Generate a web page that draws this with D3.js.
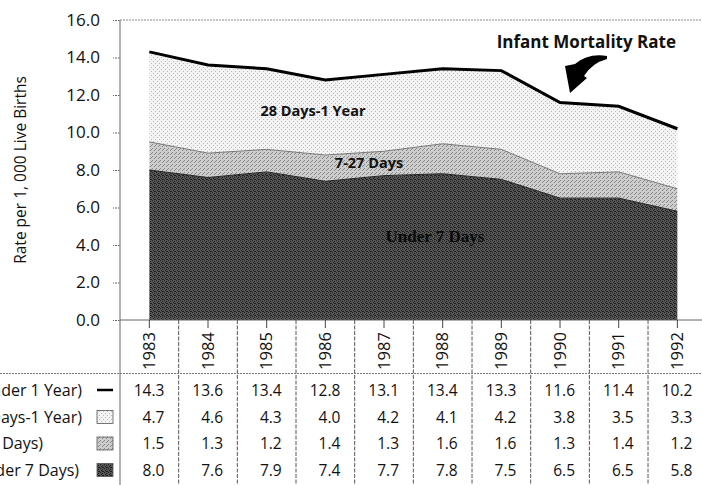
<!DOCTYPE html>
<html><head><meta charset="utf-8">
<script src="https://cdn.jsdelivr.net/npm/d3@7"></script>
<style>
body{margin:0;background:#fff}
svg{display:block}
text{font-family:"Open Sans",Lato,sans-serif;fill:#111}
</style></head>
<body><svg id="c" width="702" height="485"></svg>
<script>
const years = ["1983","1984","1985","1986","1987","1988","1989","1990","1991","1992"];
const infantTotal   = [14.3,13.6,13.4,12.8,13.1,13.4,13.3,11.6,11.4,10.2];
const postneonatal  = [4.7,4.6,4.3,4.0,4.2,4.1,4.2,3.8,3.5,3.3];
const lateNeonatal  = [1.5,1.3,1.2,1.4,1.3,1.6,1.6,1.3,1.4,1.2];
const earlyNeonatal = [8.0,7.6,7.9,7.4,7.7,7.8,7.5,6.5,6.5,5.8];
const yTicks = [0,2,4,6,8,10,12,14,16];
const rowLabels = ["Infant Mortality (Under 1 Year)","Postneonatal (28 Days-1 Year)","Late Neonatal (7-27 Days)","Early Neonatal (Under 7 Days)"];
const rowValues = [infantTotal, postneonatal, lateNeonatal, earlyNeonatal];

const svg = d3.select("#c");
const W = 702, H = 485;
const left = 120, step = 58.67;
const xBand = d3.scaleBand().domain(years).range([left, left + step*years.length]);
const xC = d => xBand(d) + xBand.bandwidth()/2;
const y = d3.scaleLinear().domain([0,16]).range([320,20]);

// patterns (halftone look)
const defs = svg.append("defs");
function pat(id, bg, dot, pts){
  const p = defs.append("pattern").attr("id",id).attr("width",4).attr("height",4).attr("patternUnits","userSpaceOnUse");
  p.append("rect").attr("width",4).attr("height",4).attr("fill",bg);
  pts.forEach(([a,b])=>p.append("rect").attr("x",a).attr("y",b).attr("width",1).attr("height",1).attr("fill",dot));
}
pat("pDark","#555","#1e1e1e",[[0,0],[2,1],[1,2],[3,3],[2,3]]);
pat("pMid","#cdcdcd","#888",[[0,0],[2,2],[3,1]]);
pat("pLight","#f3f3f3","#b8b8b8",[[1,1],[3,3]]);

// stacked areas
const rows = years.map((yr,i)=>({yr, a:earlyNeonatal[i], b:lateNeonatal[i], c:postneonatal[i], t:infantTotal[i]}));
const stack = d3.stack().keys(["a","b","c"])(rows);
const area = d3.area().x(d=>xC(d.data.yr)).y0(d=>y(d[0])).y1(d=>y(d[1]));
const fills = ["url(#pDark)","url(#pMid)","url(#pLight)"];
svg.append("g").selectAll("path").data(stack).join("path")
  .attr("d",area).attr("fill",(d,i)=>fills[i]);
const edge = d3.line().x(d=>xC(d.data.yr)).y(d=>y(d[1]));
svg.append("path").attr("d",edge(stack[0])).attr("fill","none").attr("stroke","#222").attr("stroke-width",1);
svg.append("path").attr("d",edge(stack[1])).attr("fill","none").attr("stroke","#777").attr("stroke-width",1);

// total line
svg.append("path").attr("d",d3.line().x(d=>xC(d.yr)).y(d=>y(d.t))(rows))
  .attr("fill","none").attr("stroke","#000").attr("stroke-width",3);

// top gridline at 16
svg.append("line").attr("x1",left).attr("x2",W).attr("y1",y(16)).attr("y2",y(16))
  .attr("stroke","#888").attr("stroke-dasharray","2,1");

// y axis
const yAxis = d3.axisLeft(y).tickValues(yTicks).tickFormat(d3.format(".1f")).tickSize(7).tickPadding(13);
const ga = svg.append("g").attr("transform",`translate(${left},0)`).call(yAxis);
ga.select(".domain").remove();
ga.selectAll(".tick line").attr("stroke","#666").attr("stroke-dasharray","2,1");
ga.selectAll(".tick text").attr("font-size",17).attr("font-family","'Open Sans',Lato,sans-serif").attr("fill","#111");
svg.append("line").attr("x1",left).attr("x2",left).attr("y1",y(16)).attr("y2",H).attr("stroke","#999").attr("stroke-width",1.5);

// y title
svg.append("text").attr("transform","translate(26,170) rotate(-90)").attr("text-anchor","middle")
  .attr("font-size",15.5).text("Rate per 1, 000 Live Births");

// x axis line
svg.append("line").attr("x1",left).attr("x2",W).attr("y1",320).attr("y2",320).attr("stroke","#666").attr("stroke-width",1);

// column boundaries
const bounds = years.map(yr=>xBand(yr)+xBand.bandwidth()).filter(v=>v<W);
svg.append("g").selectAll("line").data(bounds).join("line")
  .attr("x1",d=>d).attr("x2",d=>d).attr("y1",320).attr("y2",H)
  .attr("stroke","#555").attr("stroke-dasharray","4,1.5");
// center ticks
svg.append("g").selectAll("line").data(years).join("line")
  .attr("x1",d=>xC(d)).attr("x2",d=>xC(d)).attr("y1",320).attr("y2",328).attr("stroke","#444");
// year labels
svg.append("g").selectAll("text").data(years).join("text")
  .attr("transform",d=>`translate(${xC(d)+5.5},351) rotate(-90)`).attr("text-anchor","middle")
  .attr("font-size",16.5).text(d=>d);
// header line
svg.append("line").attr("x1",0).attr("x2",W).attr("y1",373.5).attr("y2",373.5)
  .attr("stroke","#777").attr("stroke-dasharray","2,1");

// table rows
const rowY = [390, 417, 443.5, 470];
const labelEnd = [82, 82, 43, 79];
rowValues.forEach((vals,r)=>{
  svg.append("g").selectAll("text").data(vals).join("text")
    .attr("x",(d,i)=>xC(years[i])+15).attr("y",rowY[r]+5.5).attr("text-anchor","end")
    .attr("font-size",15.5).text(d=>d.toFixed(1));
  svg.append("text").attr("x",labelEnd[r]).attr("y",rowY[r]+5.5).attr("text-anchor","end")
    .attr("font-size",16).text(rowLabels[r]);
});
// legend symbols
svg.append("line").attr("x1",97).attr("x2",113).attr("y1",rowY[0]).attr("y2",rowY[0]).attr("stroke","#000").attr("stroke-width",2.5);
[["url(#pLight)",1],["url(#pMid)",2],["url(#pDark)",3]].forEach(([f,r])=>{
  svg.append("rect").attr("x",97).attr("y",rowY[r]-6.5).attr("width",16).attr("height",13)
    .attr("fill",f).attr("stroke","#555").attr("stroke-width",0.8);
});

// in-chart labels
const lab = (t,x,yy,s,fam)=>svg.append("text").attr("x",x).attr("y",yy).attr("text-anchor","middle")
  .attr("font-weight","bold").attr("font-size",s).style("font-family",fam).text(t);
lab("28 Days-1 Year",313,116,14.5,"'Open Sans',sans-serif");
lab("7-27 Days",369,168,14.5,"'Open Sans',sans-serif");
lab("Under 7 Days",435,242,17,"'Liberation Serif',serif").style("fill","#0a0a0a");
svg.append("text").attr("x",676).attr("y",48).attr("text-anchor","end").attr("font-weight","bold")
  .attr("font-size",17).text("Infant  Mortality Rate");

// curved arrow
svg.append("path").attr("d","M607,56 Q588,53 575,64 L565,66 L570,93 L587,78 L584,76 Q592,63 607,59 Z").attr("fill","#000");
</script></body></html>
